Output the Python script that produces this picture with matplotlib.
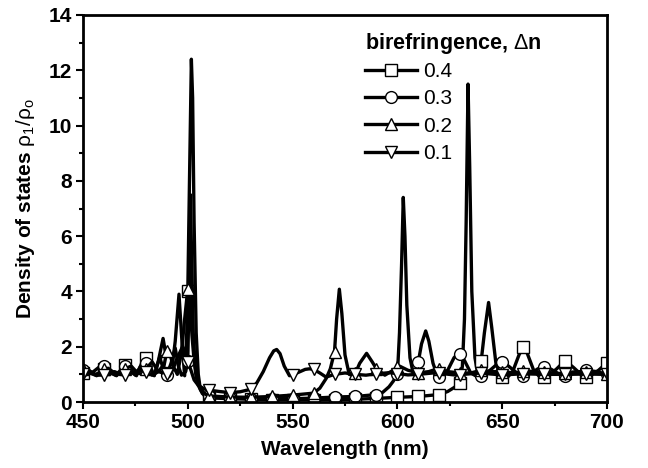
import numpy as np
import matplotlib
matplotlib.use("Agg")
import matplotlib.pyplot as plt
from matplotlib.ticker import MultipleLocator

plt.rcParams['font.family'] = ['Liberation Sans', 'DejaVu Sans']
plt.rcParams['mathtext.fontset'] = 'custom'
plt.rcParams['mathtext.rm'] = 'Liberation Sans'
plt.rcParams['mathtext.it'] = 'Liberation Sans'
plt.rcParams['mathtext.bf'] = 'Liberation Sans:bold'

# Birefringence values (legend order)
labels = ["0.4", "0.3", "0.2", "0.1"]
markers = ["s", "o", "^", "v"]

# Density of states for dn = 0.4
wl_04 = [450, 452, 454.5, 456.5, 459, 460, 461.5, 464, 466, 468.5, 470, 471, 473.5, 475.5,
         478, 480, 482, 484, 486, 488.2, 490, 492, 494, 495.8, 497.2, 498.5, 499.5, 500,
         500.8, 501.7, 502.3, 503, 504, 505, 506, 508, 510, 520, 530, 540, 550, 560, 570,
         580, 590, 600, 610, 620, 624, 627, 630, 631, 632, 632.8, 633.7, 634.5, 635.5, 637,
         638.5, 640, 641.5, 643.5, 645, 647, 649, 650, 652, 655, 658, 660, 662, 665, 668,
         670, 672, 676, 680, 684, 688, 690, 692, 696, 700]
dos_04 = [1.05, 1.2, 1.05, 0.95, 1.1, 1.2, 1.28, 1.05, 0.95, 1.15, 1.35, 1.4, 1.1, 0.95,
          1.4, 1.6, 1.3, 0.95, 1.5, 2.3, 1.5, 0.95, 2.2, 3.9, 2.2, 0.95, 2.5, 4.0,
          8.0, 12.4, 11.0, 6.5, 2.5, 1.0, 0.45, 0.22, 0.15, 0.12, 0.1, 0.08, 0.08, 0.08, 0.09,
          0.1, 0.13, 0.17, 0.2, 0.27, 0.38, 0.52, 0.7, 1.3, 3.0, 6.5, 11.5, 8.5, 4.0, 1.6,
          0.95, 1.5, 2.5, 3.6, 2.7, 1.4, 1.0, 0.92, 0.85, 1.1, 1.7, 2.0, 1.75, 1.15, 0.9,
          0.9, 0.95, 1.2, 1.5, 1.25, 0.97, 0.92, 0.95, 1.15, 1.42]

# Density of states for dn = 0.3
wl_03 = [450, 452, 455, 458, 460, 463, 465.5, 468, 470, 472, 475, 477.5, 480, 482.5, 484,
         486.5, 488.5, 490, 492, 494, 495.5, 497, 499, 500, 500.5, 501.2, 501.9, 502.6, 503.5,
         505, 507, 510, 520, 530, 540, 550, 560, 570, 580, 590, 593, 596, 598, 600, 601,
         602, 602.8, 603.6, 604.5, 606, 607.5, 609, 610, 611.5, 613.5, 615, 617, 619, 620,
         621, 624, 627, 629, 630, 632, 635, 638, 640, 641, 645, 648, 650, 653, 657, 660,
         664, 667, 670, 673, 677, 680, 685, 690, 695, 700]
dos_03 = [1.15, 1.0, 1.1, 1.28, 1.3, 1.05, 0.97, 1.15, 1.3, 1.15, 0.97, 1.3, 1.4, 1.0, 0.97,
          1.6, 1.2, 0.97, 1.4, 1.95, 1.3, 0.97, 1.1, 1.5, 3.5, 7.5, 5.0, 2.5, 1.3,
          0.6, 0.3, 0.2, 0.15, 0.12, 0.12, 0.12, 0.14, 0.18, 0.2, 0.27, 0.35, 0.55, 0.75, 1.0, 2.5,
          5.0, 7.4, 6.0, 3.5, 1.6, 1.05, 1.15, 1.46, 2.1, 2.57, 2.2, 1.4, 0.97, 0.92,
          0.9, 1.15, 1.6, 1.76, 1.72, 1.5, 1.05, 0.92, 0.93, 0.95, 1.2, 1.4, 1.43, 1.3, 1.05, 0.95,
          1.05, 1.2, 1.28, 1.2, 1.02, 0.95, 1.05, 1.15, 1.1, 1.0]

# Density of states for dn = 0.2
wl_02 = [450, 453, 456, 459, 460, 462, 465, 468, 470, 473, 476, 478.5, 480, 483, 486, 488,
         490, 491, 493, 495, 497, 498.5, 500, 501, 502, 503, 504, 506, 508, 510, 520, 530,
         540, 550, 560, 563, 566, 568, 570, 571, 572.3, 573.5, 575, 577, 579, 580,
         582, 585.3, 588, 590, 594, 598, 600, 601, 605, 610, 615, 619, 620, 624, 630, 635,
         640, 645, 650, 656, 660, 662, 668, 670, 674, 680, 686, 690, 692, 700]
dos_02 = [1.2, 1.1, 1.0, 1.1, 1.2, 1.22, 1.05, 1.0, 1.2, 1.3, 1.05, 1.0, 1.2, 1.45, 1.1, 1.05,
          1.85, 1.88, 1.3, 1.0, 1.8, 3.0, 4.1, 3.6, 2.4, 1.5, 0.9, 0.5, 0.3, 0.22, 0.18, 0.17,
          0.2, 0.25, 0.32, 0.5, 0.85, 1.2, 1.82, 3.0, 4.08, 3.2, 1.7, 1.0, 0.95, 1.05,
          1.4, 1.76, 1.45, 1.2, 0.97, 1.15, 1.25, 1.3, 1.15, 1.05, 1.1, 1.2, 1.2, 1.1, 1.05, 1.05,
          1.15, 1.1, 1.1, 1.05, 1.12, 1.12, 1.08, 1.1, 1.0, 1.06, 1.1, 1.08, 1.06, 1.0]

# Density of states for dn = 0.1
wl_01 = [450, 453, 456, 460, 463, 465, 468, 470, 473, 477, 480, 483, 486, 488, 490, 491,
         493, 495, 497.5, 499, 500, 501.5, 503, 505, 508, 510, 515, 520, 525, 530, 533, 536,
         539, 541, 542.4, 544, 546, 548.5, 550, 553, 556, 558, 560, 563, 566, 570, 575, 580,
         585, 590, 596, 600, 605, 610, 617, 620, 627, 630, 638, 640, 650, 660, 670, 680,
         690, 700]
dos_01 = [1.0, 1.05, 0.97, 0.98, 1.05, 1.1, 1.0, 0.97, 1.05, 1.15, 1.1, 0.97, 1.1, 1.3, 1.0, 0.92,
          1.2, 1.6, 2.0, 1.8, 1.45, 1.15, 0.8, 0.6, 0.47, 0.43, 0.38, 0.34, 0.37, 0.46, 0.7, 1.1,
          1.6, 1.85, 1.9, 1.75, 1.3, 0.95, 0.98, 1.08, 1.18, 1.2, 1.18, 1.05, 0.9, 1.0, 1.05, 1.0,
          0.97, 1.02, 1.06, 1.03, 0.98, 1.0, 1.05, 1.04, 0.98, 0.99, 1.04, 1.04, 0.98, 1.02, 1.0, 1.0,
          1.01, 1.0]

series = [(wl_04, dos_04), (wl_03, dos_03), (wl_02, dos_02), (wl_01, dos_01)]

fig = plt.figure(figsize=(6.48, 4.68), dpi=100)
ax = fig.add_axes([83 / 648, 1 - 402 / 468, 524 / 648, 387 / 468])

for (wl, dos), lab, mk in zip(series, labels, markers):
    wl = np.asarray(wl, dtype=float)
    every = [i for i, w in enumerate(wl) if abs(w / 10 - round(w / 10)) < 1e-9]
    ax.plot(wl, dos, color='black', lw=2.4, marker=mk, markersize=8.5,
            markerfacecolor='white', markeredgecolor='black', markeredgewidth=1.0,
            markevery=every, label=lab)

ax.set_xlim(450, 700)
ax.set_ylim(0, 14)
ax.xaxis.set_major_locator(MultipleLocator(50))
ax.xaxis.set_minor_locator(MultipleLocator(25))
ax.yaxis.set_major_locator(MultipleLocator(2))
ax.yaxis.set_minor_locator(MultipleLocator(1))
ax.tick_params(which='both', direction='out', top=False, right=False, width=1.5)
ax.tick_params(which='major', length=5, pad=3)
ax.tick_params(which='minor', length=3)
for lbl in ax.get_xticklabels() + ax.get_yticklabels():
    lbl.set_fontweight('bold')
    lbl.set_fontsize(15)
for sp in ax.spines.values():
    sp.set_linewidth(2)

ax.set_xlabel('Wavelength (nm)', fontsize=15, fontweight='bold', labelpad=6)
ax.set_ylabel(r'Density of states $\rho_1/\rho_o$', fontsize=15, fontweight='bold', labelpad=8)

leg = ax.legend(loc='upper left', bbox_to_anchor=(0.515, 0.99), frameon=False,
                title=r'birefringence, $\Delta$n', fontsize=15, handlelength=2.5,
                handletextpad=0.25, labelspacing=0.4, borderaxespad=0.2)
leg.get_title().set_fontweight('bold')
leg.get_title().set_fontsize(15.5)
leg._legend_box.align = 'left'
leg._legend_box.sep = 4

fig.savefig('out.png', dpi=100)
